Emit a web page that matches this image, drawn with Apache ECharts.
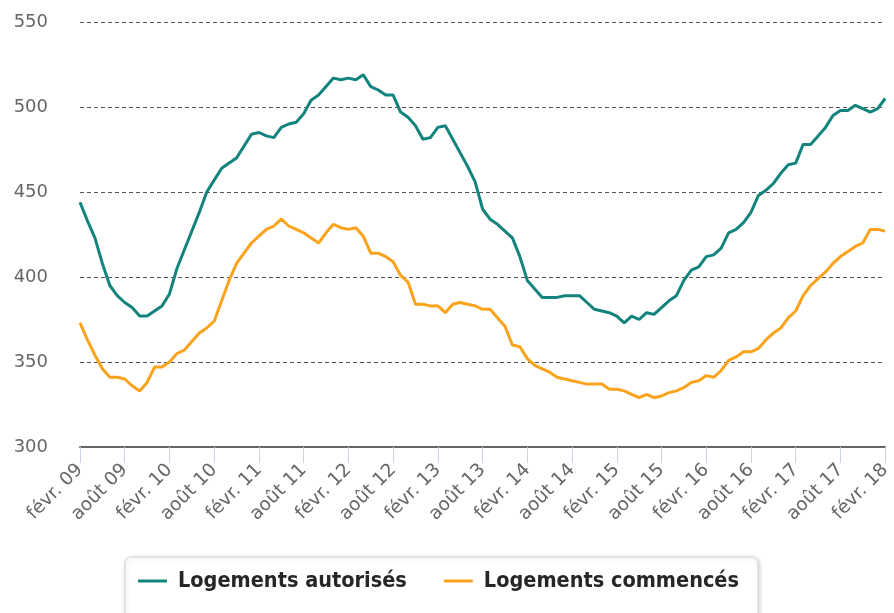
<!DOCTYPE html>
<html>
<head>
<meta charset="utf-8">
<script src="https://cdn.jsdelivr.net/npm/echarts@6/dist/echarts.min.js"></script>
<style>
  html, body { margin: 0; padding: 0; background: #fff; }
  #chart { width: 894px; height: 613px; }
</style>
</head>
<body>
<div id="chart"></div>
<script>
// mois (févr. 09 -> févr. 18)
var monthNames = ['janv.', 'févr.', 'mars', 'avr.', 'mai', 'juin', 'juil.', 'août', 'sept.', 'oct.', 'nov.', 'déc.'];
var startYear = 2009, startMonth = 1, monthCount = 109;

// Logements autorisés (milliers, cumul 12 mois)
var autorises = [
  444, 433, 423, 408, 395, 389, 385, 382, 377, 377, 380, 383,
  390, 405, 416, 427, 438, 450, 457, 464, 467, 470, 477, 484,
  485, 483, 482, 488, 490, 491, 496, 504, 507, 512, 517, 516,
  517, 516, 519, 512, 510, 507, 507, 497, 494, 489, 481, 482,
  488, 489, 481, 473, 465, 456, 440, 434, 431, 427, 423, 412,
  398, 393, 388, 388, 388, 389, 389, 389, 385, 381, 380, 379,
  377, 373, 377, 375, 379, 378, 382, 386, 389, 398, 404, 406,
  412, 413, 417, 426, 428, 432, 438, 448, 451, 455, 461, 466,
  467, 478, 478, 483, 488, 495, 498, 498, 501, 499, 497, 499,
  505
];

// Logements commencés
var commences = [
  373, 363, 354, 346, 341, 341, 340, 336, 333, 338, 347, 347,
  350, 355, 357, 362, 367, 370, 374, 386, 398, 408, 414, 420,
  424, 428, 430, 434, 430, 428, 426, 423, 420, 426, 431, 429,
  428, 429, 424, 414, 414, 412, 409, 401, 397, 384, 384, 383,
  383, 379, 384, 385, 384, 383, 381, 381, 376, 371, 360, 359,
  352, 348, 346, 344, 341, 340, 339, 338, 337, 337, 337, 334,
  334, 333, 331, 329, 331, 329, 330, 332, 333, 335, 338, 339,
  342, 341, 345, 351, 353, 356, 356, 358, 363, 367, 370, 376,
  380, 389, 395, 399, 403, 408, 412, 415, 418, 420, 428, 428,
  427
];

var yTicks = { min: 300, max: 550, step: 50 };

var categories = [];
for (var i = 0; i < monthCount; i++) {
  var m = (startMonth + i) % 12;
  var y = startYear + Math.floor((startMonth + i) / 12);
  categories.push(monthNames[m] + ' ' + String(y).slice(2));
}

var chart = echarts.init(document.getElementById('chart'));
chart.setOption({
  animation: false,
  grid: { left: 80, right: 6, top: 22, bottom: 166 },
  legend: {
    left: 125,
    top: 557,
    padding: [13, 19, 40, 13],
    backgroundColor: '#fff',
    borderColor: '#d4d4d4',
    borderWidth: 1,
    borderRadius: 6,
    shadowColor: 'rgba(0,0,0,0.18)',
    shadowBlur: 5,
    shadowOffsetX: 1,
    shadowOffsetY: 1,
    icon: 'rect',
    itemWidth: 29,
    itemHeight: 3,
    itemGap: 37,
    textStyle: {
      fontFamily: 'DejaVu Sans Condensed',
      fontWeight: 'bold',
      fontSize: 21.5,
      color: '#262626',
      padding: [0, 0, 0, 6]
    },
    data: ['Logements autorisés', 'Logements commencés']
  },
  xAxis: {
    type: 'category',
    boundaryGap: false,
    data: categories,
    axisLine: { lineStyle: { color: '#666', width: 2 } },
    axisTick: { interval: 5, length: 16, lineStyle: { color: '#ccd6eb', width: 1 } },
    axisLabel: {
      interval: 5,
      rotate: 45,
      margin: 20,
      fontFamily: 'DejaVu Sans',
      fontSize: 18.5,
      color: '#666'
    }
  },
  yAxis: {
    type: 'value',
    min: yTicks.min,
    max: yTicks.max,
    interval: yTicks.step,
    axisLine: { show: false },
    axisTick: { show: false },
    axisLabel: {
      margin: 32,
      fontFamily: 'DejaVu Sans',
      fontSize: 18,
      color: '#666'
    },
    splitLine: { lineStyle: { color: '#555', type: [4, 3], width: 1 } }
  },
  series: [
    {
      name: 'Logements autorisés',
      type: 'line',
      data: autorises,
      showSymbol: false,
      color: '#13847d',
      lineStyle: { width: 3 }
    },
    {
      name: 'Logements commencés',
      type: 'line',
      data: commences,
      showSymbol: false,
      color: '#fba31c',
      lineStyle: { width: 3 }
    }
  ]
});
</script>
</body>
</html>
